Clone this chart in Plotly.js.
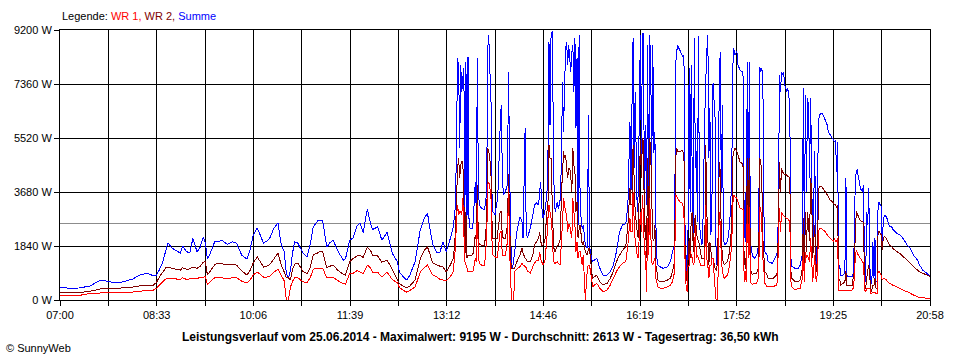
<!DOCTYPE html>
<html><head><meta charset="utf-8">
<script src="https://cdn.plot.ly/plotly-3.0.1.min.js"></script>
<style>html,body{margin:0;padding:0;background:#fff}#chart{width:960px;height:360px}
#chart path.js-line, #chart .gridlayer path, #chart .shapelayer path{shape-rendering:crispEdges}</style>
</head><body><div id="chart"></div>
<script>
// minutes after 07:00 on 25.06.2014
const minutesAfter0700 = [
0,10,19,29,39,48,55,63,70,77,
84,90,93,96,99,102,104,108,111,116,
118,122,125,128,132,135,138,140,142,144,
149,152,156,161,166,170,175,180,183,186,
190,193,196,199,202,206,210,213,216,218,
220,222,224,226,229,234,238,241,244,248,
250,253,257,260,263,268,273,275,279,282,
286,289,292,296,299,301,306,310,315,320,
325,327,331,334,337,342,347,351,354,356,
359,363,366,369,372,376,379,380,381,382,
383,384,385,386,387,388,389,390,391,392,
393,394,395,397,398,400,401,402,403,404,
406,409,411,412,413,414,415,416,417,419,
421,422,424,425,426,427,429,431,432,433,
434,435,436,437,438,440,443,445,446,448,
449,450,453,456,457,459,461,462,463,464,
465,467,469,470,471,472,473,474,475,476,
477,479,480,482,483,484,485,486,487,488,
489,490,491,492,493,494,495,496,497,498,
499,500,501,503,504,506,508,509,510,512,
513,517,520,523,527,530,533,536,539,542,
545,547,549,550,551,552,553,554,556,557,
559,560,561,562,563,564,565,566,567,568,
569,570,571,572,573,574,575,576,578,581,
585,588,590,592,593,594,595,596,597,599,
600,601,602,603,604,605,606,607,608,609,
610,611,612,613,614,615,616,617,618,619,
621,622,623,624,625,626,627,628,629,631,
632,633,634,635,636,637,638,639,640,643,
645,647,648,649,650,652,653,655,657,658,
659,660,661,662,663,664,665,666,667,669,
671,672,673,674,675,676,677,678,679,681,
682,686,687,690,691,692,693,694,695,696,
697,698,700,701,702,703,704,705,708,711,
713,715,716,717,718,719,720,721,722,723,
724,725,727,728,729,730,731,732,734,735,
737,739,740,742,744,745,746,747,748,749,
750,751,752,754,756,757,758,759,763,764,
765,766,767,768,769,770,771,773,774,775,
776,777,778,779,780,781,782,783,784,785,
786,787,788,789,790,791,792,793,794,796,
797,799,801,802,806,809,812,816,819,822,
826,828,831,835,838];

// WR 1 (W)
const wr1 = [
136,140,160,220,240,250,260,270,270,300,
330,340,400,520,620,720,750,740,720,700,
760,700,720,750,740,760,780,800,545,600,
760,780,760,720,760,760,640,580,680,850,
950,870,780,780,800,950,1050,850,650,0,
0,440,640,750,760,620,600,760,1050,1090,
1090,1080,760,760,780,650,560,545,900,900,
1000,950,900,1190,1100,950,950,780,950,700,
580,420,320,270,330,440,950,1100,1190,1050,
850,780,700,680,650,800,970,1500,1760,2900,
3240,2900,3010,3010,2900,3460,2330,1310,1200,1080,
970,970,970,970,1000,1420,1300,3240,1420,1250,
1190,1190,2100,3920,4030,3800,3700,2100,1530,1480,
1420,1700,2330,2330,1530,1530,1530,1990,3800,1900,
740,0,0,0,970,1050,1140,1250,1200,1140,
1100,1000,910,1190,1250,1360,1360,1650,1400,1310,
1190,1300,2100,2780,3240,3000,2800,2330,1530,1250,
1250,1300,1250,1190,2100,2560,3460,3240,3010,2900,
2330,2560,2560,2300,2100,3460,3000,2560,1650,1990,
1420,1650,1650,1190,1530,0,1080,1190,1190,740,
450,570,400,280,340,510,740,970,1140,1250,
1310,1870,2780,2330,2330,3690,2780,2000,1530,1420,
3010,2330,3580,2780,1530,1650,280,2780,1530,3460,
2330,1300,1190,1310,1420,740,570,450,400,400,
450,510,620,970,3580,3520,3460,3400,3350,3300,
3240,2900,1420,510,280,1190,1190,1650,1530,1420,
1190,1310,2560,1420,1530,1420,1310,1190,1190,1190,
1190,3240,1420,1190,740,1190,1190,1420,1420,400,
0,0,970,3010,2560,1420,1000,800,740,850,
1190,1870,3240,3580,3520,3460,3350,3120,3100,3100,
620,970,620,3240,1420,3180,620,570,540,570,
570,700,740,3180,3120,2560,1420,1000,570,450,
450,450,450,510,620,1990,3120,2330,3010,2900,
2870,2840,2780,2780,2720,2670,620,450,340,400,
400,740,1650,620,1650,1420,1530,1420,1300,2100,
1420,620,1530,740,620,1650,2390,2440,2420,2390,
2330,2220,2160,2100,2040,2000,2100,1990,2000,2100,
340,340,340,340,340,340,340,340,340,400,
700,1420,1700,1600,1530,1470,1420,1310,1250,340,
280,400,400,400,400,230,230,250,250,250,
230,230,970,970,910,850,680,740,740,680,
620,570,540,510,450,400,340,280,230,170,
110,90,80,60,60];

// WR 2 (W)
const wr2 = [
240,240,250,300,375,380,400,420,440,480,
500,510,600,800,950,1100,1120,1080,1050,1020,
1100,1050,1060,1120,1080,1150,1290,1300,850,950,
1200,1260,1230,1200,1220,1190,1000,850,1000,1250,
1470,1300,1120,1150,1200,1400,1600,1200,950,760,
750,680,1050,1220,1260,980,900,1100,1550,1600,
1640,1640,1100,1150,1190,1000,870,850,1300,1400,
1500,1530,1450,1800,1700,1530,1500,1290,1360,1050,
680,560,460,410,480,680,1400,1700,1800,1600,
1260,1200,1150,1120,960,1200,1420,1900,2330,3500,
4490,4830,4150,4600,4710,4710,3460,1420,3000,1420,
1530,1530,1500,1530,1600,2220,2000,3920,1990,1900,
1870,1870,2670,5170,5060,4800,4490,2780,2100,2100,
2100,2400,3010,3010,2200,2100,2100,2560,4300,2900,
1420,1080,1080,1080,1080,1300,1530,1760,1600,1420,
1400,1300,1300,1600,1870,1990,2100,2330,2000,1870,
1870,1990,3010,3240,5280,4830,4830,3460,2330,1650,
1650,1870,1870,2100,3690,4260,5060,4830,4940,4500,
4150,4490,4490,4200,3690,5170,4600,4370,3010,3350,
2100,2400,2560,1870,1990,1650,1530,1760,1760,1020,
740,850,620,510,570,740,970,1310,1530,1700,
1820,2560,3800,3240,3240,5280,4150,3010,2330,2100,
5450,4150,5510,5400,2330,2560,1420,4830,2330,5510,
5060,3400,2100,2000,2560,1190,970,680,620,620,
680,740,970,1310,4830,5170,5060,5060,5060,5100,
5060,4940,1870,970,620,1420,2100,1420,2780,3010,
1650,2560,2900,2330,2100,1990,1870,1600,1420,1420,
1420,5280,3010,2100,1190,1990,1650,1420,1420,1080,
1000,1190,2330,4710,4370,2100,1500,1250,1200,1310,
1650,2560,4830,5060,5170,5060,4940,4710,4650,4540,
1190,1420,970,4830,2560,4830,1080,910,880,910,
910,1000,1190,4830,4770,4050,2100,1500,970,850,
740,740,740,850,970,2560,4710,3690,4490,4370,
4300,4260,4260,4200,4200,4150,970,740,620,620,
680,1080,2780,970,3010,1650,3010,2560,2000,4150,
3700,1420,2560,1190,970,2560,3800,3860,3860,3800,
3690,3580,3520,3400,3350,3300,3240,3240,3130,3240,
600,700,510,560,620,970,510,510,510,740,
970,2220,3010,2950,2840,2780,2700,2670,2620,400,
400,740,1000,1190,800,280,340,510,510,740,
400,400,2330,2330,2280,2220,1700,2100,2160,2100,
2000,1870,1820,1760,1650,1590,1480,1360,1250,1140,
1020,960,910,850,800];

// Summe (W)
const summe = [
430,400,410,480,680,620,580,640,715,850,
920,820,850,1050,1290,1700,1940,1770,1700,1600,
1840,1650,1600,2100,1640,1800,2150,1940,1400,1530,
1980,1980,2040,1900,1980,1940,1530,1400,1700,2200,
2450,2200,1940,2000,2100,2450,2620,1900,1650,900,
750,1020,1600,1980,1940,1600,1470,1900,2500,2690,
2720,2700,1800,1950,2040,1640,1360,1400,2040,2100,
2520,2620,2300,3100,2620,2400,2490,2040,2300,1600,
1300,950,780,680,850,1300,2390,2800,2960,2490,
1900,1600,1640,1980,1640,2100,2500,2900,3240,5740,
8240,7900,5170,8010,7100,7560,7900,2900,8120,2670,
8290,2560,2440,2440,2670,4030,3010,8240,3690,3240,
3120,3070,3690,8580,9030,7780,7330,3690,3010,2900,
3350,3800,5960,6650,4490,3580,3700,3920,7780,4830,
2330,1080,1080,1400,1650,2330,2840,2670,2100,5850,
2560,2100,2440,3010,3240,3300,3240,3690,4030,3240,
2780,3000,3580,4830,8800,5960,9030,9150,6420,3460,
3010,3350,3100,3460,4830,7440,5740,7210,8580,8800,
8010,8690,8240,7780,8460,8690,7100,8920,5850,8240,
2560,9030,3120,2440,2560,1870,1760,6300,1870,1420,
1310,1420,1080,850,850,970,1190,1650,2330,2560,
2600,3240,6080,3690,6760,8920,4500,7100,3010,3690,
9030,4500,9090,9090,2780,5960,3240,8690,2560,9030,
7900,4600,8690,5000,5740,2560,1420,1190,1130,1080,
1130,1310,1650,1870,8010,8460,8690,8580,8520,8350,
8290,8350,2560,1530,620,2560,7900,3000,8010,3920,
2100,8920,4490,5060,2670,9000,2560,2220,1870,1990,
6190,7440,8460,9030,4830,6530,2220,3460,7390,6200,
1300,1190,2330,7670,8460,3690,6640,2100,1870,1990,
2560,4030,7900,8580,8350,8460,8010,7840,7780,7610,
2100,3690,1530,8120,3010,8120,1990,1760,1500,1420,
1530,1640,1990,7950,7780,7900,7550,3010,1650,1530,
1310,1250,1310,1530,1650,3010,7670,7100,7780,7670,
7780,7330,7100,7210,6990,6420,1420,1140,1080,1080,
1190,1530,7210,1760,6990,3690,6870,6650,4150,6870,
4490,1530,5060,1530,1190,4830,6190,6330,6360,6300,
6140,5960,5740,5620,5510,5450,5400,5450,4370,5400,
1000,1200,850,850,910,4150,850,800,800,910,
1990,4030,4370,4460,4150,4030,3800,3690,3920,740,
620,3010,2560,3800,1190,510,620,1990,740,2100,
620,620,3240,3350,3240,3180,2000,2670,2900,2840,
2730,2500,2500,2420,2270,2220,2100,1870,1760,1530,
1360,1190,1020,910,800];

const xTickLabels = ['07:00','08:33','10:06','11:39','13:12','14:46','16:19','17:52','19:25','20:58'];
const yTickValues = [0, 1840, 3680, 5520, 7360, 9200];
const yTickLabels = ['0 W', '1840 W', '3680 W', '5520 W', '7360 W', '9200 W'];
const durchschnitt = 2613;
const totalMinutes = 838; // 07:00 – 20:58
const titleText = 'Leistungsverlauf vom 25.06.2014 - Maximalwert: 9195 W - Durchschnitt: 2613 W - Tagesertrag: 36,50 kWh';

const xTickVals = [], xTickText = [];
for (let i = 0; i <= 18; i++) {
  xTickVals.push(i * totalMinutes / 18);
  xTickText.push(i % 2 === 0 ? xTickLabels[i / 2] : '');
}

function series(name, y, color) {
  return {x: minutesAfter0700, y: y, name: name, type: 'scatter', mode: 'lines',
          line: {color: color, width: 1, simplify: false}, hoverinfo: 'skip'};
}

const traces = [
  series('Summe', summe, '#0000ff'),
  series('WR 2', wr2, '#800000'),
  series('WR 1', wr1, '#ff0000')
];

const axisCommon = {
  ticks: 'outside', ticklen: 5, tickwidth: 1, tickcolor: '#000',
  showgrid: true, gridcolor: '#000', gridwidth: 1,
  showline: true, linecolor: '#000', linewidth: 1, mirror: true,
  zeroline: false, fixedrange: true,
  tickfont: {family: 'Liberation Sans, Arial, sans-serif', size: 11, color: '#000'}
};

const layout = {
  width: 960, height: 360,
  margin: {l: 60, r: 30, t: 30, b: 60, pad: 0},
  paper_bgcolor: '#fff', plot_bgcolor: '#fff',
  showlegend: false,
  font: {family: 'Liberation Sans, Arial, sans-serif', size: 11, color: '#000'},
  xaxis: Object.assign({}, axisCommon, {range: [0, totalMinutes], tickvals: xTickVals, ticktext: xTickText}),
  yaxis: Object.assign({}, axisCommon, {range: [0, 9200], tickvals: yTickValues, ticktext: yTickLabels}),
  shapes: [{type: 'line', xref: 'paper', x0: 0, x1: 1, yref: 'y', y0: durchschnitt, y1: durchschnitt,
            line: {color: '#8c8c8c', width: 1}, layer: 'between'}],
  annotations: [
    {xref: 'paper', yref: 'paper', x: 0, y: (300 - 16) / 270, xanchor: 'left', yanchor: 'middle', showarrow: false,
     text: 'Legende: <span style="color:#ff0000">WR 1,</span> <span style="color:#800000">WR 2,</span> <span style="color:#0000ff">Summe</span>',
     font: {size: 11, color: '#000'}},
    {xref: 'paper', yref: 'paper', x: (480 - 60) / 870, y: (300 - 337) / 270, xanchor: 'center', yanchor: 'middle', showarrow: false,
     text: '<b>' + titleText + '</b>', font: {size: 12, color: '#000'}},
    {xref: 'paper', yref: 'paper', x: (4 - 60) / 870, y: (300 - 348) / 270, xanchor: 'left', yanchor: 'middle', showarrow: false,
     text: '© SunnyWeb', font: {size: 11, color: '#000'}}
  ]
};

Plotly.newPlot('chart', traces, layout, {staticPlot: true, displayModeBar: false});
</script>
</body></html>
